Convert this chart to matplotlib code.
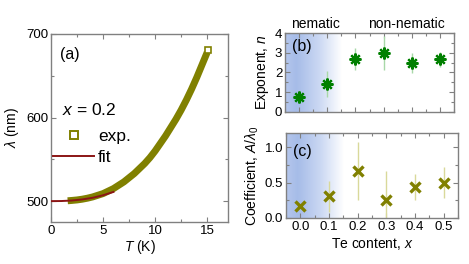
import numpy as np
import matplotlib
matplotlib.use("Agg")
import matplotlib.pyplot as plt
from matplotlib.colors import LinearSegmentedColormap
from matplotlib.ticker import MultipleLocator

plt.rcParams['font.family'] = ['Liberation Sans', 'DejaVu Sans']
plt.rcParams['mathtext.fontset'] = 'custom'
plt.rcParams['mathtext.rm'] = 'Liberation Sans'
plt.rcParams['mathtext.it'] = 'Liberation Sans:italic'
plt.rcParams['mathtext.bf'] = 'Liberation Sans:bold'

# ---- data ----
exp_T = [1.6, 2.0, 2.5, 3.0, 3.5, 4.0, 4.5, 5.0, 5.5, 6.0, 6.5, 7.0, 7.5, 8.0,
         8.5, 9.0, 9.5, 10.0, 10.5, 11.0, 11.5, 12.0, 12.5, 13.0, 13.5, 14.0,
         14.5, 15.0]
exp_lam = [500.4, 500.8, 501.4, 502.3, 503.5, 505, 507, 509, 512, 515, 519,
           523, 528, 533, 539, 545, 552, 560, 569, 578, 588, 598, 609, 621,
           634, 648, 663, 678]
last_T = [15.1]
last_lam = [681]
fit_T = [0, 1, 2, 3, 4, 5, 6]
fit_lam = [500, 500.1, 500.7, 502, 504, 507, 511]

te_x = [0.0, 0.1, 0.2, 0.3, 0.4, 0.5]
exponent_n = [0.77, 1.41, 2.69, 2.97, 2.48, 2.66]
exponent_err = [0.12, 0.65, 0.57, 0.87, 0.5, 0.37]
coef = [0.17, 0.31, 0.66, 0.25, 0.44, 0.50]
coef_err = [0.03, 0.22, 0.41, 0.41, 0.18, 0.22]

olive = '#808000'
green = '#008000'
darkred = '#8b1515'
spine_c = '#808080'

W, H = 469, 264
fig = plt.figure(figsize=(W / 100, H / 100), dpi=100)

def px_axes(l, t, r, b):
    return fig.add_axes([l / W, 1 - b / H, (r - l) / W, (b - t) / H])

def style(ax, fs):
    for s in ax.spines.values():
        s.set_color(spine_c)
        s.set_linewidth(1.0)
    ax.tick_params(which='both', direction='in', top=True, right=True,
                   color=spine_c, labelsize=fs, pad=2)
    ax.tick_params(which='major', length=3.5, width=0.8)
    ax.tick_params(which='minor', length=2, width=0.8)

# ---- panel (a) ----
axa = px_axes(51, 34, 228, 222)
style(axa, 9.5)
axa.plot(exp_T, exp_lam, color=olive, lw=5.0, solid_capstyle='butt', zorder=2)
axa.plot(last_T, last_lam, ls='none', marker='s', ms=5, mfc='white',
         mec=olive, mew=1.2, zorder=3)
axa.plot(fit_T, fit_lam, color=darkred, lw=1.4, zorder=4)
axa.set_xlim(0, 17)
axa.set_ylim(475, 700)
axa.xaxis.set_major_locator(MultipleLocator(5))
axa.xaxis.set_minor_locator(MultipleLocator(2.5))
axa.yaxis.set_major_locator(MultipleLocator(100))
axa.yaxis.set_minor_locator(MultipleLocator(50))
axa.set_xlabel('$T$ (K)', fontsize=10, labelpad=1)
axa.set_ylabel(r'$\lambda$ (nm)', fontsize=10, labelpad=4)
axa.text(0.05, 0.89, '(a)', transform=axa.transAxes, fontsize=11.5,
         va='center', ha='left')
axa.text(0.06, 0.595, '$x$ = 0.2', transform=axa.transAxes, fontsize=12.5,
         va='center', ha='left')
h1, = axa.plot([], [], ls='none', marker='s', ms=6, mfc='white', mec=olive,
               mew=1.4)
h2, = axa.plot([], [], color=darkred, lw=1.4)
axa.legend([h1, h2], ['exp.', 'fit'], loc='upper left',
           bbox_to_anchor=(0.01, 0.495), frameon=False, fontsize=12.5,
           handlelength=2.4, handletextpad=0.2, labelspacing=0.35,
           borderpad=0, borderaxespad=0)

# gradient colormap
cmap = LinearSegmentedColormap.from_list(
    'neb', [(0.0, '#b5c7ec'), (0.2, '#a6bce8'), (0.6, '#cbd8f3'),
            (1.0, '#ffffff')])
grad = np.linspace(0, 1, 256).reshape(1, -1)

# ---- panel (b) ----
axb = px_axes(285, 33, 454, 111.7)
style(axb, 9.5)
axb.set_xlim(-0.05, 0.55)
axb.set_ylim(0, 4)
axb.imshow(grad, extent=[-0.05, 0.15, 0, 4], aspect='auto', cmap=cmap,
           zorder=0, interpolation='bilinear')
axb.errorbar(te_x, exponent_n, yerr=exponent_err, fmt='none',
             ecolor='#a8d8a8', elinewidth=1.0, capsize=0, zorder=2)
axb.plot(te_x, exponent_n, ls='none', marker=(8, 2, 0), ms=8.5, mew=1.6,
         color=green, zorder=3)
axb.xaxis.set_major_locator(MultipleLocator(0.1))
axb.xaxis.set_minor_locator(MultipleLocator(0.05))
axb.yaxis.set_major_locator(MultipleLocator(1))
axb.yaxis.set_minor_locator(MultipleLocator(0.5))
axb.tick_params(labelbottom=False)
axb.set_ylabel('Exponent, $n$', fontsize=10, labelpad=3)
axb.text(0.04, 0.83, '(b)', transform=axb.transAxes, fontsize=11.5,
         va='center', ha='left')
axb.text(0.18, 1.03, 'nematic', transform=axb.transAxes, fontsize=10,
         ha='center', va='bottom')
axb.text(0.716, 1.03, 'non-nematic', transform=axb.transAxes, fontsize=10,
         ha='center', va='bottom')

# ---- panel (c) ----
axc = px_axes(286, 133.3, 458, 218)
style(axc, 9.5)
axc.set_xlim(-0.05, 0.55)
axc.set_ylim(0, 1.2)
axc.imshow(grad, extent=[-0.05, 0.15, 0, 1.2], aspect='auto', cmap=cmap,
           zorder=0, interpolation='bilinear')
axc.errorbar(te_x, coef, yerr=coef_err, fmt='none', ecolor='#d9d99a',
             elinewidth=1.0, capsize=0, zorder=2)
axc.plot(te_x, coef, ls='none', marker='x', ms=7, mew=2.4, color=olive,
         zorder=3)
axc.xaxis.set_major_locator(MultipleLocator(0.1))
axc.xaxis.set_minor_locator(MultipleLocator(0.05))
axc.yaxis.set_major_locator(MultipleLocator(0.5))
axc.yaxis.set_minor_locator(MultipleLocator(0.25))
axc.set_xticks(te_x)
axc.set_xticklabels(['0.0', '0.1', '0.2', '0.3', '0.4', '0.5'])
axc.set_yticks([0, 0.5, 1.0])
axc.set_yticklabels(['0.0', '0.5', '1.0'])
axc.set_xlabel('Te content, $x$', fontsize=10, labelpad=2)
axc.set_ylabel(r'Coefficient, $A/\lambda_0$', fontsize=10, labelpad=3)
axc.text(0.04, 0.78, '(c)', transform=axc.transAxes, fontsize=11.5,
         va='center', ha='left')

fig.savefig('out.png', dpi=100)
